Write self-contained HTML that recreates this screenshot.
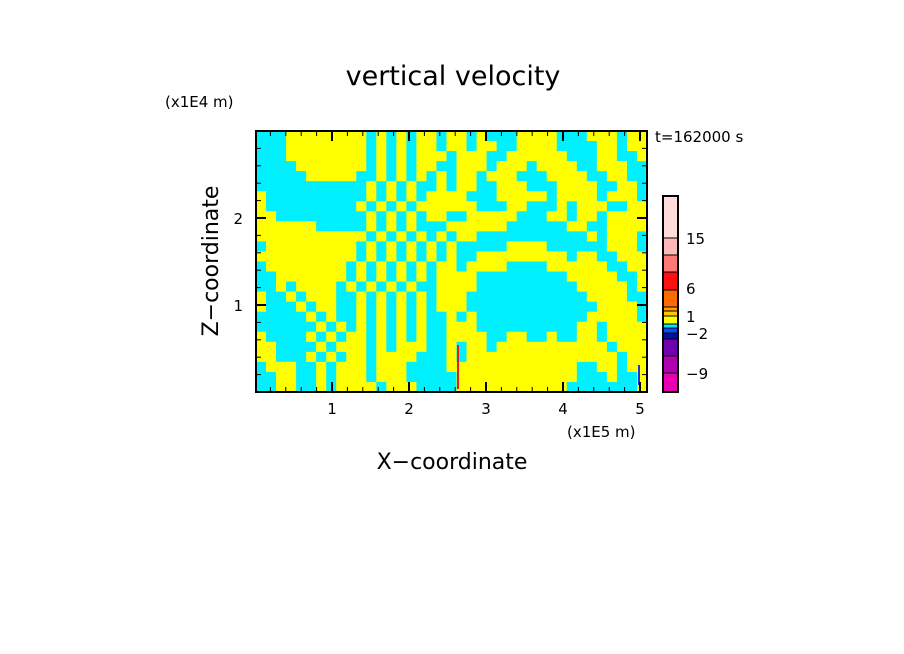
<!DOCTYPE html>
<html><head><meta charset="utf-8"><style>
body{margin:0;background:#fff;width:904px;height:654px;overflow:hidden}
svg{display:block;font-family:"DejaVu Sans","Liberation Sans",sans-serif}
</style></head><body>
<svg id="chart" width="904" height="654" viewBox="0 0 904 654">
<text x="453" y="85" font-size="27" text-anchor="middle">vertical velocity</text>
<text x="165" y="107" font-size="15">(x1E4 m)</text>
<text x="655" y="142" font-size="15">t=162000 s</text>
<text x="567" y="437" font-size="15">(x1E5 m)</text>
<text x="452" y="469" font-size="22" text-anchor="middle">X−coordinate</text>
<text x="0" y="0" font-size="22" text-anchor="middle" transform="translate(218,261) rotate(-90)">Z−coordinate</text>
<g id="field"></g>
<g id="axes"></g>
<g id="cbar"></g>
</svg>
<script>
const gridRows = [
"CCCYYYYYYYYCYCYCYYCYYCYCCCYYYYCCCYYYCYY",
"CCCYYYYYYYYCYCYCYYCYYCYYCCYYYYCCCCYYCYY",
"CCCYYYYYYYYCYCYCYYYCYYYCCYYYYYYCCCYYCCY",
"CCCCYYYYYYYCYCYCYYCCYYYCYYYCYYYYCCYYYCC",
"CCCCCYYYYYCCYCYCYCYCYYCYYYCCCYYYYCCYYCC",
"CCCCCCCCCCCYCYCYCCYCYYCCYYYCCCYYYYCCYYC",
"YCCCCCCCCCCYCYCYCYYYYCCCYYYYYCYYYYCYYYC",
"YCCCCCCCCCYCYCYCYYYYYYCCCYYCCCYCYYYCCYY",
"YYCCCCCCCCCYCYCYCYYCCYYYYYCCCYYCYYCYYYY",
"YYYYYYCCCCCYCYCYCCCYYYYYYCCCCCCYYCCYYYY",
"YYYYYYYYYYYCYCYCYCYCYYCCCCCCCCCCCYCYYYC",
"CYYYYYYYYYCYCYCYCYCYCCCCCYYYYCCCCCCYYYC",
"YYYYYYYYYYCYCYCYCYCYCCYYYYYYYYYCYYCCYYY",
"CYYYYYYYYCYCYCYCYCYYCYYYYCCCCYYYYYYCCYY",
"CCYYYYYYYCYCYCYCYCYYYYCCCCCCCCCYYYYYCCY",
"CCYCYYYYCYCYCYCYCCYYYYCCCCCCCCCCYYYYYCY",
"YCCYCYYYCCYCYCYCYCYYYCCCCCCCCCCCCYYYYCC",
"YCCCYCYYCCYCYCYCYCYYYCCCCCCCCCCCCCYYYYC",
"CCCCCYCYCCYCYCYCYCCYCYCCCCCCCCCCCYYYYYC",
"CCCCCCYCYCYCYCYCYCCYYYCCCCCCCCCCYYCYYYY",
"YCCCCYCYCYYCYCYCYCCYYYYCCYYCCYCCYYCYYYY",
"YYCCCCYCYYYCYCYYYCCYCYYCYYYYYYYYYYYCYYY",
"YYCCCYCYCYYCYYYYCCCYCYYYYYYYYYYYYYYYCYY",
"CYYYCCYCYYYCYYYCCCCYYYYYYYYYYYYYCCYYCYY",
"CCYYCCYCYYYCYYYCCCCCYYYYYYYYYYYYCCCYCCY",
"CCYYCCYCYYYYCYYYCCCCYYYYYYYYYYYCCCCCCCY"
];
const xTicks = [1,2,3,4,5];
const yTicks = [1,2];
const cbLevels = [-12,-9,-6,-3,-2,-1,0,0.5,1,2,3,6,9,12,15,21];
const cbColors = ["#e800b0","#b000b0","#7000b0","#0010a0","#0050ff","#00e8ff","#ffff00","#ffc800","#ffa000","#ff6a00","#ff1010","#ff7878","#ffb8b8","#ffdcdc","#ffdcdc"];
const cbLabels = ["−9","−2","1","6","15"];
const cbLabelY = [373,333,316,288,238];

const X0=255, PX=77, Y0=392, PY=87, L=256, R=647, T=131, B=392;
const sx = v => X0 + v*PX;
const sy = v => Y0 - v*PY;
const NS="http://www.w3.org/2000/svg";
function mk(tag, attrs, parent){const e=document.createElementNS(NS,tag);for(const k in attrs)e.setAttribute(k,attrs[k]);parent.appendChild(e);return e;}

const field=document.getElementById('field');
const nr=gridRows.length, nc=gridRows[0].length;
const cw=(R-L)/nc, ch=(B-T)/nr;
gridRows.forEach((row,j)=>{
  for(let i=0;i<nc;i++){
    const c=mk('rect',{x:(L+i*cw).toFixed(2),y:(T+j*ch).toFixed(2),width:(cw+0.6).toFixed(2),height:(ch+0.6).toFixed(2),fill:row[i]==='Y'?'#ffff00':'#00f0ff'},field);
    
    
  }
});
// small extreme streaks
const s1=mk('rect',{x:457,y:345,width:2,height:44,fill:'#e02020'},field);


const s2=mk('rect',{x:638,y:365,width:2,height:20,fill:'#2030e0'},field);



const axes=document.getElementById('axes');
const fr=mk('rect',{x:L,y:T,width:R-L,height:B-T,fill:'none',stroke:'#000','stroke-width':2},axes);


for(let v=0.2;v<5.1;v+=0.2){
  const major=Math.abs(v-Math.round(v))<0.01;
  const x=sx(v), len=major?10:5;
  mk('line',{x1:x,y1:B,x2:x,y2:B-len,stroke:'#000','stroke-width':major?2:1},axes);
  mk('line',{x1:x,y1:T,x2:x,y2:T+len,stroke:'#000','stroke-width':major?2:1},axes);
}
for(let v=0.2;v<3;v+=0.2){
  const major=Math.abs(v-Math.round(v))<0.01;
  const y=sy(v), len=major?10:5;
  mk('line',{x1:L,y1:y,x2:L+len,y2:y,stroke:'#000','stroke-width':major?2:1},axes);
  mk('line',{x1:R,y1:y,x2:R-len,y2:y,stroke:'#000','stroke-width':major?2:1},axes);
}
xTicks.forEach(v=>{
  const t=mk('text',{x:sx(v),y:414,'font-size':15,'text-anchor':'middle'},axes);
  t.textContent=v;
  
  
});
yTicks.forEach(v=>{
  const t=mk('text',{x:243,y:sy(v)+6,'font-size':15,'text-anchor':'end'},axes);
  t.textContent=v;
  
  
});

const cbar=document.getElementById('cbar');
// segment boundaries (top-down pixel edges)
const edges=[392,373,356,339,333,328,324,316,311,307,290,272,255,238,196];
for(let k=0;k<edges.length-1;k++){
  const r=mk('rect',{x:663,y:edges[k+1],width:15,height:edges[k]-edges[k+1],fill:cbColors[k],stroke:'#000','stroke-width':1},cbar);
  
  
}
mk('rect',{x:663,y:196,width:15,height:196,fill:'none',stroke:'#000','stroke-width':2},cbar);
cbLabels.forEach((lab,k)=>{
  const t=mk('text',{x:686,y:cbLabelY[k]+6,'font-size':15},cbar);
  t.textContent=lab;
  
  
});
</script>
</body></html>
